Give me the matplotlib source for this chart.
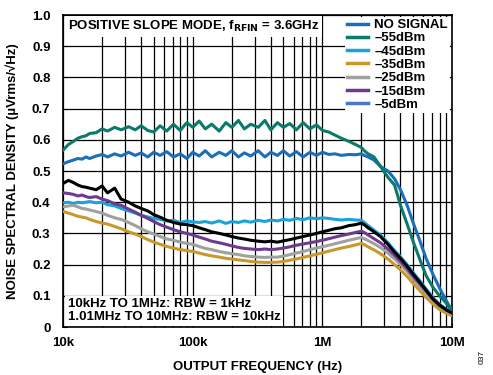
import numpy as np
import matplotlib.pyplot as plt
from matplotlib.lines import Line2D
from matplotlib.ticker import FixedLocator, FuncFormatter

plt.rcParams['font.family'] = ['Liberation Sans', 'DejaVu Sans']

# frequency points (kHz)
freq_khz = [10, 11, 12, 13, 14, 15, 16, 18, 20, 22, 25, 28, 32, 36, 40, 45, 50, 56, 63, 71,
            80, 90, 100, 112, 125, 140, 160, 180, 200, 225, 250, 280, 320, 360, 400, 450, 500,
            560, 630, 710, 800, 900, 1000, 1120, 1250, 1400, 1600, 1800, 2000, 2100, 2250,
            2500, 2800, 3200, 3600, 4000, 4500, 5000, 5600, 6300, 7100, 8000, 9000, 10000]

no_signal = [0.523, 0.530, 0.535, 0.540, 0.538, 0.545, 0.540, 0.548, 0.553, 0.545, 0.555, 0.548,
             0.560, 0.550, 0.558, 0.545, 0.560, 0.550, 0.562, 0.545, 0.555, 0.540, 0.560, 0.548,
             0.565, 0.545, 0.560, 0.550, 0.565, 0.545, 0.558, 0.548, 0.565, 0.545, 0.560, 0.550,
             0.565, 0.548, 0.562, 0.545, 0.560, 0.550, 0.560, 0.553, 0.555, 0.550, 0.553, 0.552,
             0.555, 0.550, 0.545, 0.535, 0.515, 0.500, 0.475, 0.440, 0.390, 0.335, 0.280, 0.220,
             0.170, 0.125, 0.085, 0.052]
m55 = [0.567, 0.585, 0.595, 0.605, 0.610, 0.613, 0.620, 0.623, 0.635, 0.628, 0.640, 0.632,
       0.642, 0.632, 0.645, 0.630, 0.625, 0.645, 0.628, 0.650, 0.630, 0.655, 0.640, 0.660,
       0.635, 0.650, 0.628, 0.655, 0.640, 0.662, 0.635, 0.650, 0.640, 0.662, 0.632, 0.655,
       0.640, 0.652, 0.632, 0.655, 0.635, 0.648, 0.630, 0.625, 0.615, 0.605, 0.595, 0.585,
       0.575, 0.565, 0.555, 0.545, 0.515, 0.480, 0.455, 0.390, 0.330, 0.275, 0.220, 0.165,
       0.128, 0.100, 0.077, 0.048]
m45 = [0.398, 0.400, 0.395, 0.400, 0.398, 0.400, 0.402, 0.398, 0.400, 0.392, 0.388, 0.380,
       0.372, 0.365, 0.358, 0.353, 0.348, 0.345, 0.340, 0.342, 0.335, 0.340, 0.337, 0.335,
       0.338, 0.333, 0.340, 0.332, 0.338, 0.335, 0.340, 0.336, 0.342, 0.338, 0.343, 0.340,
       0.345, 0.342, 0.348, 0.344, 0.350, 0.347, 0.350, 0.348, 0.345, 0.343, 0.345, 0.343,
       0.342, 0.335, 0.325, 0.310, 0.295, 0.270, 0.245, 0.225, 0.200, 0.175, 0.150, 0.122,
       0.095, 0.073, 0.057, 0.046]
m35 = [0.370, 0.365, 0.360, 0.355, 0.352, 0.350, 0.345, 0.338, 0.333, 0.330, 0.322, 0.315,
       0.305, 0.298, 0.290, 0.280, 0.272, 0.265, 0.258, 0.253, 0.248, 0.245, 0.242, 0.237,
       0.232, 0.228, 0.224, 0.220, 0.218, 0.215, 0.213, 0.210, 0.208, 0.207, 0.207, 0.208,
       0.210, 0.214, 0.218, 0.223, 0.228, 0.233, 0.238, 0.243, 0.248, 0.253, 0.258, 0.263,
       0.268, 0.264, 0.257, 0.247, 0.235, 0.218, 0.200, 0.183, 0.162, 0.140, 0.118, 0.095,
       0.074, 0.056, 0.044, 0.036]
m25 = [0.385, 0.388, 0.390, 0.385, 0.380, 0.378, 0.375, 0.370, 0.365, 0.358, 0.350, 0.345,
       0.335, 0.325, 0.315, 0.305, 0.298, 0.290, 0.282, 0.278, 0.272, 0.268, 0.265, 0.258,
       0.252, 0.248, 0.242, 0.238, 0.235, 0.232, 0.228, 0.226, 0.224, 0.223, 0.224, 0.224,
       0.227, 0.232, 0.237, 0.242, 0.248, 0.253, 0.257, 0.262, 0.267, 0.272, 0.278, 0.283,
       0.287, 0.283, 0.277, 0.267, 0.255, 0.237, 0.218, 0.200, 0.178, 0.155, 0.132, 0.108,
       0.085, 0.066, 0.052, 0.043]
m15 = [0.430, 0.428, 0.425, 0.420, 0.423, 0.418, 0.415, 0.418, 0.410, 0.405, 0.395, 0.390,
       0.378, 0.368, 0.358, 0.348, 0.338, 0.328, 0.320, 0.312, 0.305, 0.300, 0.295, 0.288,
       0.282, 0.275, 0.270, 0.265, 0.260, 0.255, 0.252, 0.250, 0.248, 0.250, 0.248, 0.250,
       0.253, 0.257, 0.262, 0.266, 0.270, 0.274, 0.278, 0.283, 0.288, 0.293, 0.298, 0.303,
       0.307, 0.303, 0.295, 0.283, 0.270, 0.250, 0.230, 0.210, 0.187, 0.163, 0.140, 0.115,
       0.090, 0.070, 0.055, 0.045]
m5 = [0.460, 0.470, 0.463, 0.455, 0.450, 0.448, 0.445, 0.440, 0.452, 0.430, 0.445, 0.410,
      0.400, 0.388, 0.380, 0.372, 0.360, 0.352, 0.342, 0.335, 0.330, 0.328, 0.325, 0.318,
      0.312, 0.305, 0.300, 0.295, 0.290, 0.285, 0.282, 0.278, 0.275, 0.273, 0.275, 0.272,
      0.276, 0.280, 0.285, 0.290, 0.295, 0.300, 0.305, 0.310, 0.315, 0.318, 0.325, 0.328,
      0.333, 0.328, 0.318, 0.305, 0.290, 0.265, 0.240, 0.220, 0.195, 0.170, 0.145, 0.118,
      0.090, 0.070, 0.055, 0.045]

labels = ['NO SIGNAL', '\u201355dBm', '\u201345dBm', '\u201335dBm', '\u201325dBm', '\u201315dBm', '\u20135dBm']
series = [no_signal, m55, m45, m35, m25, m15, m5]
colors = ['#1a6fb8', '#0a7a6a', '#1aa3d8', '#c8982a', '#a0a0a0', '#6e3a8e', '#000000']
legend_colors = ['#1a6fb8', '#0a7a6a', '#1aa3d8', '#c8982a', '#a0a0a0', '#6e3a8e', '#4a76c6']

f = np.array(freq_khz) * 1e3
FS = 9.5

fig = plt.figure(figsize=(4.93, 3.75), dpi=100)
ax = fig.add_axes([0.128, 0.128, 0.789, 0.832])

for s, c in zip(series, colors):
    ax.plot(f, s, color=c, lw=2.2, zorder=3)

ax.set_xscale('log')
ax.set_xlim(1e4, 1e7)
ax.set_ylim(0, 1.0)
ax.yaxis.set_major_locator(FixedLocator(np.arange(0, 1.01, 0.1)))
ax.yaxis.set_major_formatter(FuncFormatter(lambda v, p: '0' if abs(v) < 1e-9 else f'{v:.1f}'))
ax.xaxis.set_major_formatter(FuncFormatter(lambda v, p: {1e4: '10k', 1e5: '100k', 1e6: '1M', 1e7: '10M'}.get(v, '')))
ax.grid(True, which='major', color='black', lw=0.9)
ax.grid(True, which='minor', axis='x', color='black', lw=0.9)
ax.tick_params(which='both', direction='in', labelsize=9.5, length=3)
ax.tick_params(axis='x', pad=7)
ax.tick_params(axis='y', pad=9)
for t in ax.get_xticklabels() + ax.get_yticklabels():
    t.set_fontweight('bold')
for s in ax.spines.values():
    s.set_linewidth(1.2)

ax.set_xlabel('OUTPUT FREQUENCY (Hz)', fontsize=FS, fontweight='bold', labelpad=9)
ax.set_ylabel('NOISE SPECTRAL DENSITY (\u00b5Vrms/\u221aHz)', fontsize=FS, fontweight='bold', labelpad=9)

ax.text(0.012, 0.988, 'POSITIVE SLOPE MODE, f$_\\mathbf{RFIN}$ = 3.6GHz', transform=ax.transAxes,
        fontsize=FS, fontweight='bold', va='top', ha='left', zorder=5,
        bbox=dict(facecolor='white', edgecolor='none', pad=2))
ax.text(0.012, 0.012, '10kHz TO 1MHz: RBW = 1kHz\n1.01MHz TO 10MHz: RBW = 10kHz', transform=ax.transAxes,
        fontsize=FS, fontweight='bold', va='bottom', ha='left', zorder=5, linespacing=1.1,
        bbox=dict(facecolor='white', edgecolor='none', pad=2))

handles = [Line2D([0], [0], color=c, lw=2.5) for c in legend_colors]
leg = ax.legend(handles, labels, loc='upper right', bbox_to_anchor=(0.998, 0.998), frameon=True,
                prop={'weight': 'bold', 'size': FS}, handlelength=1.6, handletextpad=0.5,
                labelspacing=0.08, borderpad=0.15, borderaxespad=0.1, fancybox=False)
leg.get_frame().set_edgecolor('none')
leg.get_frame().set_alpha(1)
leg.set_zorder(6)

fig.text(0.978, 0.03, '037', rotation=90, fontsize=6, ha='center', va='bottom')

fig.savefig('out.png', dpi=100)
